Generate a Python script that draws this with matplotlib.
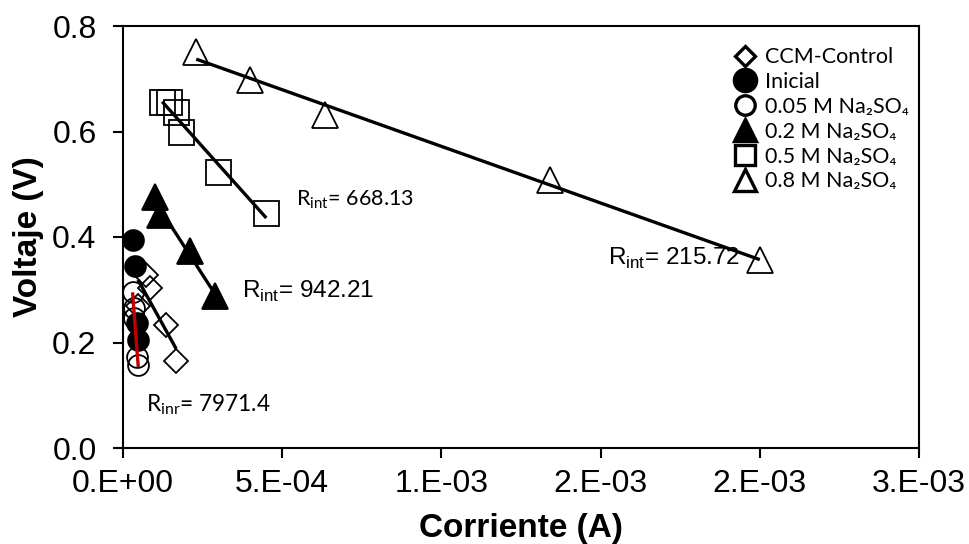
import numpy as np
import matplotlib
matplotlib.use("Agg")
import matplotlib.pyplot as plt
from matplotlib.lines import Line2D

# Current (A) and voltage (V) for each membrane condition
ccm_i = [0.047e-3, 0.072e-3, 0.085e-3, 0.135e-3, 0.167e-3]
ccm_v = [0.270, 0.328, 0.303, 0.233, 0.165]

ini_i = [0.031e-3, 0.038e-3, 0.044e-3, 0.047e-3]
ini_v = [0.394, 0.345, 0.237, 0.205]

m005_i = [0.030e-3, 0.034e-3, 0.036e-3, 0.045e-3, 0.048e-3]
m005_v = [0.296, 0.265, 0.246, 0.173, 0.157]

m02_i = [0.100e-3, 0.116e-3, 0.211e-3, 0.289e-3]
m02_v = [0.476, 0.442, 0.373, 0.288]

m05_i = [0.123e-3, 0.145e-3, 0.167e-3, 0.182e-3, 0.299e-3, 0.450e-3]
m05_v = [0.656, 0.656, 0.637, 0.599, 0.523, 0.445]

m08_i = [0.23e-3, 0.40e-3, 0.635e-3, 1.34e-3, 2.00e-3]
m08_v = [0.751, 0.698, 0.631, 0.508, 0.356]

series_labels = ["CCM-Control", "Inicial", "0.05 M Na₂SO₄", "0.2 M Na₂SO₄",
                 "0.5 M Na₂SO₄", "0.8 M Na₂SO₄"]

x_ticks = [0.0, 0.5e-3, 1.0e-3, 1.5e-3, 2.0e-3, 2.5e-3]
x_tick_labels = ["0.E+00", "5.E-04", "1.E-03", "2.E-03", "2.E-03", "3.E-03"]
y_ticks = [0.0, 0.2, 0.4, 0.6, 0.8]
y_tick_labels = ["0.0", "0.2", "0.4", "0.6", "0.8"]

r_labels = ["668.13", "942.21", "215.72", "7971.4"]

ARIAL = ["Liberation Sans", "DejaVu Sans"]
CALIBRI = ["Lato", "Noto Sans", "DejaVu Sans"]
plt.rcParams["mathtext.fontset"] = "custom"

fig = plt.figure(figsize=(9.69, 5.44), dpi=100)
ax = fig.add_axes([123 / 969, 96 / 544, 796 / 969, 422 / 544])

mew = 1.3
ax.plot(ccm_i, ccm_v, ls="none", marker="D", ms=12, mfc="none", mec="black", mew=mew, zorder=3)
ax.plot(ini_i, ini_v, ls="none", marker="o", ms=15, mfc="black", mec="black", mew=mew, zorder=3)
ax.plot(m005_i, m005_v, ls="none", marker="o", ms=15, mfc="none", mec="black", mew=mew, zorder=3)
ax.plot(m02_i, m02_v, ls="none", marker="^", ms=19, mfc="black", mec="black", mew=mew, zorder=3)
ax.plot(m05_i, m05_v, ls="none", marker="s", ms=18, mfc="none", mec="black", mew=mew, zorder=3)
ax.plot(m08_i, m08_v, ls="none", marker="^", ms=19, mfc="none", mec="black", mew=mew, zorder=3)


def trend(xs, ys, color="black"):
    xs = np.asarray(xs)
    k, b = np.polyfit(xs, ys, 1)
    xx = np.array([xs.min(), xs.max()])
    ax.plot(xx, k * xx + b, color=color, lw=2.4, solid_capstyle="butt", zorder=4)


trend(ccm_i, ccm_v)
trend(m005_i, m005_v, color="#c00000")
trend(m02_i, m02_v)
trend(m05_i, m05_v)
trend(m08_i, m08_v)

# Internal resistance labels
ax.text(0.544e-3, 0.470, r"R$_{\mathregular{int}}$= " + r_labels[0], family=CALIBRI,
        fontsize=15.5, va="center", ha="left")
ax.text(0.374e-3, 0.296, r"R$_{\mathregular{int}}$= " + r_labels[1], family=ARIAL,
        fontsize=17.5, va="center", ha="left")
ax.text(1.522e-3, 0.360, r"R$_{\mathregular{int}}$= " + r_labels[2], family=ARIAL,
        fontsize=17.5, va="center", ha="left")
ax.text(0.072e-3, 0.0815, r"R$_{\mathregular{inr}}$= " + r_labels[3], family=CALIBRI,
        fontsize=16.3, va="center", ha="left")

ax.set_xlim(0, 2.5e-3)
ax.set_ylim(0, 0.8)
ax.set_xticks(x_ticks)
ax.set_xticklabels(x_tick_labels, family=ARIAL, fontsize=23)
ax.set_yticks(y_ticks)
ax.set_yticklabels(y_tick_labels, family=ARIAL, fontsize=23)
ax.tick_params(axis="both", direction="out", length=7, width=1.5)
ax.tick_params(axis="y", pad=12)
ax.tick_params(axis="x", pad=8)
for s in ax.spines.values():
    s.set_linewidth(1.5)

ax.set_xlabel("Corriente (A)", family=ARIAL, fontsize=24, fontweight="bold", labelpad=10)
ax.set_ylabel("Voltaje (V)", family=ARIAL, fontsize=24, fontweight="bold", labelpad=6)

lw_leg = 2.4
handles = [
    Line2D([], [], ls="none", marker="D", ms=10, mfc="white", mec="black", mew=lw_leg),
    Line2D([], [], ls="none", marker="o", ms=16, mfc="black", mec="black", mew=lw_leg),
    Line2D([], [], ls="none", marker="o", ms=14, mfc="white", mec="black", mew=lw_leg),
    Line2D([], [], ls="none", marker="^", ms=16, mfc="black", mec="black", mew=lw_leg),
    Line2D([], [], ls="none", marker="s", ms=15, mfc="white", mec="black", mew=lw_leg),
    Line2D([], [], ls="none", marker="^", ms=16, mfc="white", mec="black", mew=lw_leg),
]
leg = ax.legend(handles, series_labels, loc="upper left", bbox_to_anchor=(0.7568, 0.9704),
                frameon=False, prop={"family": CALIBRI, "size": 15.5},
                handlelength=1.0, handletextpad=0.45, labelspacing=0.226,
                borderaxespad=0.0)

fig.savefig("out.png", dpi=100)
